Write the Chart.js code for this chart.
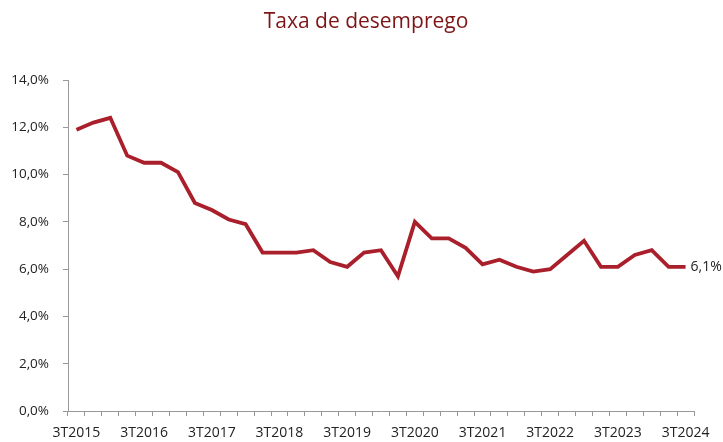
<!DOCTYPE html>
<html>
<head>
<meta charset="utf-8">
<script src="https://cdn.jsdelivr.net/npm/chart.js@4.4.1/dist/chart.umd.min.js"></script>
<style>
  html, body { margin: 0; padding: 0; background: #fff; }
  #wrap { width: 723px; height: 442px; }
</style>
</head>
<body>
<div id="wrap"><canvas id="chart" width="723" height="442"></canvas></div>
<script>
// trimestres 3T2015 .. 3T2024
const quarters = [
  '3T2015', '4T2015', '1T2016', '2T2016', '3T2016', '4T2016', '1T2017', '2T2017', '3T2017', '4T2017',
  '1T2018', '2T2018', '3T2018', '4T2018', '1T2019', '2T2019', '3T2019', '4T2019', '1T2020', '2T2020',
  '3T2020', '4T2020', '1T2021', '2T2021', '3T2021', '4T2021', '1T2022', '2T2022', '3T2022', '4T2022',
  '1T2023', '2T2023', '3T2023', '4T2023', '1T2024', '2T2024', '3T2024'
];
const unemployment = [
  11.9, 12.2, 12.4, 10.8, 10.5, 10.5, 10.1, 8.8, 8.5, 8.1,
  7.9, 6.7, 6.7, 6.7, 6.8, 6.3, 6.1, 6.7, 6.8, 5.7,
  8.0, 7.3, 7.3, 6.9, 6.2, 6.4, 6.1, 5.9, 6.0, 6.6,
  7.2, 6.1, 6.1, 6.6, 6.8, 6.1, 6.1
];
const yTicks = [0, 2, 4, 6, 8, 10, 12, 14];
const title = 'Taxa de desemprego';

const fmt = v => v.toFixed(1).replace('.', ',') + '%';

// título + rótulo do último valor
const extras = {
  id: 'extras',
  afterDatasetsDraw(chart) {
    const ctx = chart.ctx;
    const meta = chart.getDatasetMeta(0);
    const pt = meta.data[meta.data.length - 1];
    ctx.save();
    ctx.textBaseline = 'middle';
    ctx.font = '21px "Open Sans"';
    ctx.fillStyle = '#7d1517';
    ctx.textAlign = 'center';
    ctx.fillText(title, 366, 22);
    ctx.font = '14px "Open Sans"';
    ctx.fillStyle = '#222';
    ctx.textAlign = 'left';
    ctx.fillText(fmt(unemployment[unemployment.length - 1]), pt.x + 5, pt.y);
    ctx.restore();
  }
};

new Chart(document.getElementById('chart'), {
  type: 'line',
  data: {
    labels: quarters,
    datasets: [{
      data: unemployment,
      borderColor: '#a91f2b',
      borderWidth: 3.8,
      pointRadius: 0,
      tension: 0,
      fill: false
    }]
  },
  options: {
    responsive: false,
    animation: false,
    layout: { padding: { left: 0, right: 29, top: 80, bottom: 0 } },
    plugins: {
      legend: { display: false },
      tooltip: { enabled: false },
      title: { display: false }
    },
    scales: {
      x: {
        offset: true,
        afterFit: s => { s.height = 31; },
        grid: {
          offset: true,
          drawOnChartArea: false,
          drawTicks: true,
          tickLength: 5,
          color: '#999'
        },
        border: { color: '#999', width: 1 },
        ticks: {
          autoSkip: false,
          maxRotation: 0,
          color: '#222',
          padding: 9,
          font: { family: '"Open Sans"', size: 14 },
          callback: (v, i) => (i % 4 === 0 ? quarters[i] : '')
        }
      },
      y: {
        min: yTicks[0],
        max: yTicks[yTicks.length - 1],
        afterBuildTicks: s => { s.ticks = yTicks.map(v => ({ value: v })); },
        afterFit: s => { s.width = 68; },
        grid: {
          drawOnChartArea: false,
          drawTicks: true,
          tickLength: 5,
          color: '#999'
        },
        border: { color: '#999', width: 1 },
        ticks: {
          color: '#222',
          padding: 14,
          font: { family: '"Open Sans"', size: 13.5 },
          callback: v => fmt(v)
        }
      }
    }
  },
  plugins: [extras]
});
</script>
</body>
</html>
